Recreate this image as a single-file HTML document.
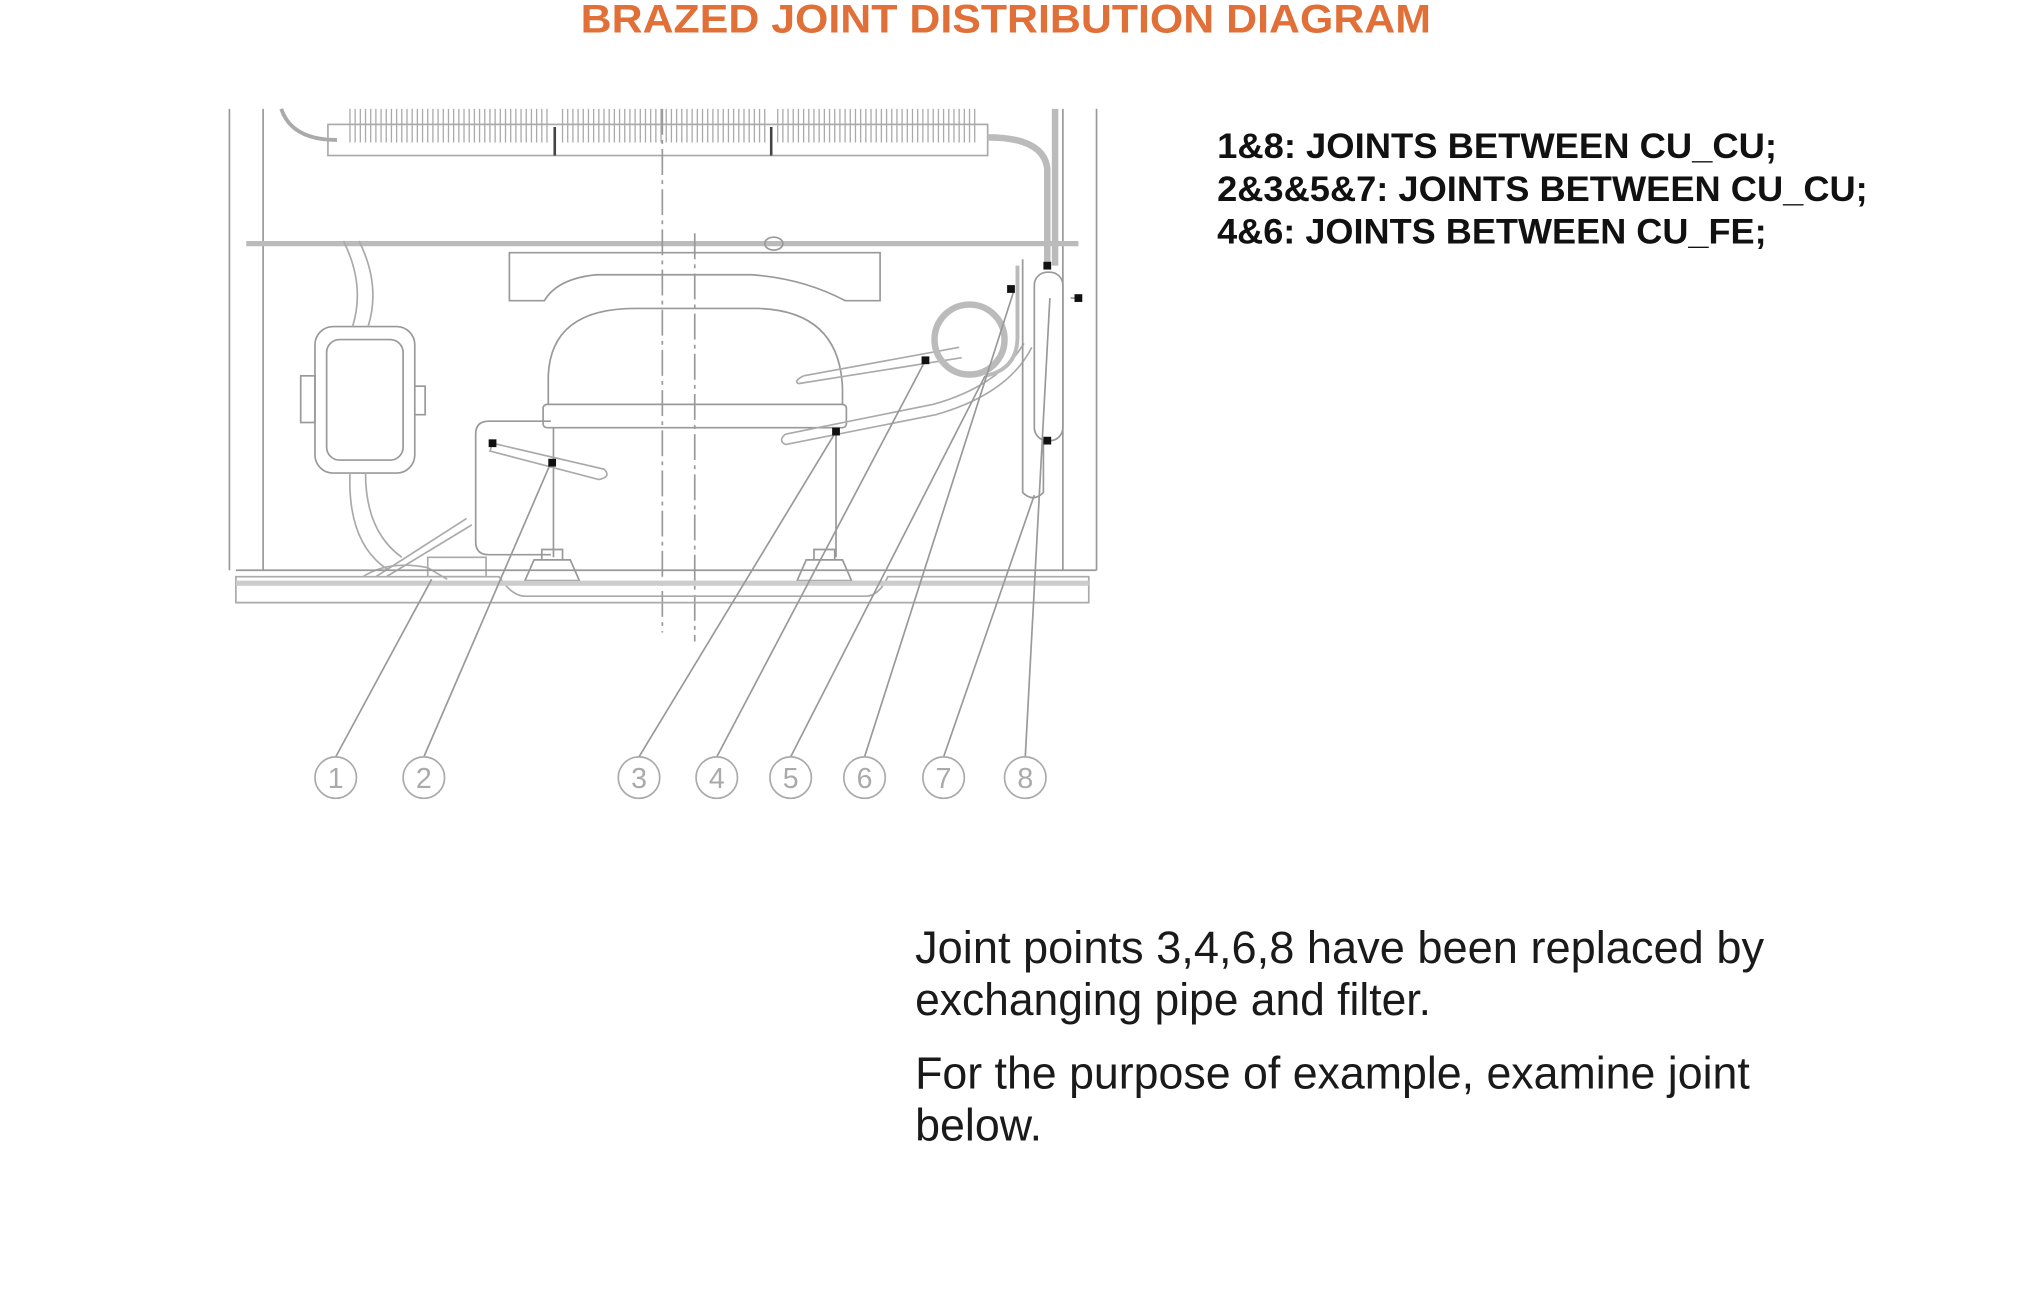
<!DOCTYPE html>
<html><head><meta charset="utf-8"><style>
html,body{margin:0;padding:0;background:#fff;width:2022px;height:1296px;overflow:hidden}
svg{display:block}
</style></head><body>
<svg width="2022" height="1296" viewBox="0 0 1560 1000" preserveAspectRatio="none" xmlns="http://www.w3.org/2000/svg">
<g font-family="Liberation Sans, Arial, sans-serif">
<text x="448" y="25" font-size="31" font-weight="bold" fill="#e07038" textLength="656" lengthAdjust="spacingAndGlyphs">BRAZED JOINT DISTRIBUTION DIAGRAM</text>
<g font-size="27" font-weight="bold" fill="#111">
<text x="939" y="122" textLength="432" lengthAdjust="spacingAndGlyphs">1&amp;8: JOINTS BETWEEN CU_CU;</text>
<text x="939" y="155" textLength="502" lengthAdjust="spacingAndGlyphs">2&amp;3&amp;5&amp;7: JOINTS BETWEEN CU_CU;</text>
<text x="939" y="188" textLength="424" lengthAdjust="spacingAndGlyphs">4&amp;6: JOINTS BETWEEN CU_FE;</text>
</g>
<g font-size="35" fill="#1a1a1a">
<text x="706" y="743" textLength="655" lengthAdjust="spacingAndGlyphs">Joint points 3,4,6,8 have been replaced by</text>
<text x="706" y="783" textLength="398" lengthAdjust="spacingAndGlyphs">exchanging pipe and filter.</text>
<text x="706" y="840" textLength="644" lengthAdjust="spacingAndGlyphs">For the purpose of example, examine joint</text>
<text x="706" y="880" textLength="98" lengthAdjust="spacingAndGlyphs">below.</text>
</g>
</g>
<g fill="none" stroke="#999" stroke-width="1.3">
<line x1="177" y1="84" x2="177" y2="440"/><line x1="203" y1="84" x2="203" y2="440"/>
<line x1="820" y1="84" x2="820" y2="440"/><line x1="846" y1="84" x2="846" y2="440"/>
<line x1="190" y1="188" x2="832" y2="188" stroke="#bbb" stroke-width="4"/>
<rect x="253" y="96" width="509" height="24" stroke="#aaa"/>
<path d="M217 84 Q225 108 260 108" stroke="#aaa" stroke-width="3"/>
<path d="M762 106 Q805 106 808 130 L808 205" stroke="#bbb" stroke-width="5"/>
<line x1="814" y1="84" x2="814" y2="205" stroke="#bbb" stroke-width="5"/>
<path stroke="#aaa" stroke-width="1" d="M270 84v26M274 84v26M278 84v26M282 84v26M286 84v26M290 84v26M294 84v26M298 84v26M302 84v26M306 84v26M310 84v26M314 84v26M318 84v26M322 84v26M326 84v26M330 84v26M334 84v26M338 84v26M342 84v26M346 84v26M350 84v26M354 84v26M358 84v26M362 84v26M366 84v26M370 84v26M374 84v26M378 84v26M382 84v26M386 84v26M390 84v26M394 84v26M398 84v26M402 84v26M406 84v26M410 84v26M414 84v26M418 84v26M422 84v26M434 84v26M438 84v26M442 84v26M446 84v26M450 84v26M454 84v26M458 84v26M462 84v26M466 84v26M470 84v26M474 84v26M478 84v26M482 84v26M486 84v26M490 84v26M494 84v26M498 84v26M502 84v26M506 84v26M510 84v26M514 84v26M518 84v26M522 84v26M526 84v26M530 84v26M534 84v26M538 84v26M542 84v26M546 84v26M550 84v26M554 84v26M558 84v26M562 84v26M566 84v26M570 84v26M574 84v26M578 84v26M582 84v26M586 84v26M590 84v26M600 84v26M604 84v26M608 84v26M612 84v26M616 84v26M620 84v26M624 84v26M628 84v26M632 84v26M636 84v26M640 84v26M644 84v26M648 84v26M652 84v26M656 84v26M660 84v26M664 84v26M668 84v26M672 84v26M676 84v26M680 84v26M684 84v26M688 84v26M692 84v26M696 84v26M700 84v26M704 84v26M708 84v26M712 84v26M716 84v26M720 84v26M724 84v26M728 84v26M732 84v26M736 84v26M740 84v26M744 84v26M748 84v26M752 84v26"/>
<line x1="428" y1="98" x2="428" y2="120" stroke="#444" stroke-width="2"/>
<line x1="595" y1="98" x2="595" y2="120" stroke="#444" stroke-width="2"/>
<line x1="511" y1="84" x2="511" y2="488" stroke-dasharray="20 4 3 4"/>
<line x1="536" y1="180" x2="536" y2="495" stroke-dasharray="20 4 3 4"/>
<ellipse cx="597" cy="188" rx="7" ry="5"/>
<path d="M393 195 H679 V232 H652 Q620 215 580 212 H460 Q430 215 420 232 H393 Z"/>
<path d="M423 312 V290 Q425 238 490 238 H585 Q648 240 650 300 V312"/>
<rect x="419" y="312" width="234" height="18" rx="3"/>
<path d="M427 330 V430 M645 330 V430"/>
<path d="M425 325 H377 Q367 325 367 335 V418 Q367 428 377 428 H425"/>
<path d="M380 342 L466 362 Q472 368 462 370 L378 348 Z" stroke="#aaa"/>
<path d="M620 290 L740 268 M616 296 L742 276 M620 290 Q612 294 616 296" stroke="#aaa"/>
<path d="M606 335 L720 312 Q770 298 790 265 M606 343 L722 320 Q778 304 796 268 M606 335 Q600 340 606 343" stroke="#aaa"/>
<circle cx="748" cy="262" r="27" stroke="#bbb" stroke-width="5"/>
<path d="M785 205 V260 Q785 285 760 290" stroke="#bbb" stroke-width="3"/>
<path d="M789 200 V380 Q797 388 805 380 V340" />
<rect x="798" y="210" width="22" height="130" rx="10"/>
<line x1="826" y1="230" x2="832" y2="230"/>
<rect x="243" y="252" width="77" height="113" rx="14"/>
<rect x="252" y="262" width="59" height="93" rx="10"/>
<rect x="232" y="290" width="11" height="36"/>
<path d="M320 298 h8 v22 h-8"/>
<path d="M265 186 Q282 220 272 252 M277 186 Q294 220 284 252" stroke="#aaa"/>
<path d="M270 365 Q268 420 300 440 M282 365 Q282 410 310 430" stroke="#aaa"/>
<path d="M290 445 L360 400 M298 445 L364 405" stroke="#aaa"/>
<path d="M280 445 Q300 432 330 438 L345 447 M330 430 h45 v15 h-45z" stroke="#aaa"/>
<path d="M405 448 L412 432 H440 L447 448 Z M418 432 V424 H434 V432"/>
<path d="M615 448 L622 432 H650 L657 448 Z M628 432 V424 H644 V432"/>
<path d="M182 445 H385 Q395 460 405 460 H668 Q678 460 685 445 H840 V465 H182 Z" stroke="#aaa"/>
<line x1="182" y1="450" x2="840" y2="450" stroke="#ccc" stroke-width="4"/>
<line x1="182" y1="440" x2="846" y2="440"/>
<line x1="259" y1="584" x2="333" y2="447"/>
<line x1="327" y1="584" x2="425" y2="357"/>
<line x1="493" y1="584" x2="645" y2="333"/>
<line x1="553" y1="584" x2="714" y2="278"/>
<line x1="610" y1="584" x2="760" y2="290"/>
<line x1="667" y1="584" x2="782" y2="225"/>
<line x1="728" y1="584" x2="798" y2="382"/>
<line x1="791" y1="584" x2="810" y2="230"/>
</g>
<g fill="#111">
<rect x="377" y="339" width="6" height="6"/><rect x="423" y="354" width="6" height="6"/>
<rect x="642" y="330" width="6" height="6"/><rect x="711" y="275" width="6" height="6"/>
<rect x="777" y="220" width="6" height="6"/><rect x="805" y="202" width="6" height="6"/>
<rect x="829" y="227" width="6" height="6"/><rect x="805" y="337" width="6" height="6"/>
</g>
<g fill="none" stroke="#aaa" stroke-width="1.3">
<ellipse cx="259" cy="600" rx="16" ry="16"/><ellipse cx="327" cy="600" rx="16" ry="16"/>
<ellipse cx="493" cy="600" rx="16" ry="16"/><ellipse cx="553" cy="600" rx="16" ry="16"/>
<ellipse cx="610" cy="600" rx="16" ry="16"/><ellipse cx="667" cy="600" rx="16" ry="16"/>
<ellipse cx="728" cy="600" rx="16" ry="16"/><ellipse cx="791" cy="600" rx="16" ry="16"/>
</g>
<g font-family="Liberation Sans, sans-serif" font-size="22" fill="#aaa" text-anchor="middle">
<text x="259" y="608">1</text><text x="327" y="608">2</text><text x="493" y="608">3</text><text x="553" y="608">4</text>
<text x="610" y="608">5</text><text x="667" y="608">6</text><text x="728" y="608">7</text><text x="791" y="608">8</text>
</g>
</svg>
</body></html>
